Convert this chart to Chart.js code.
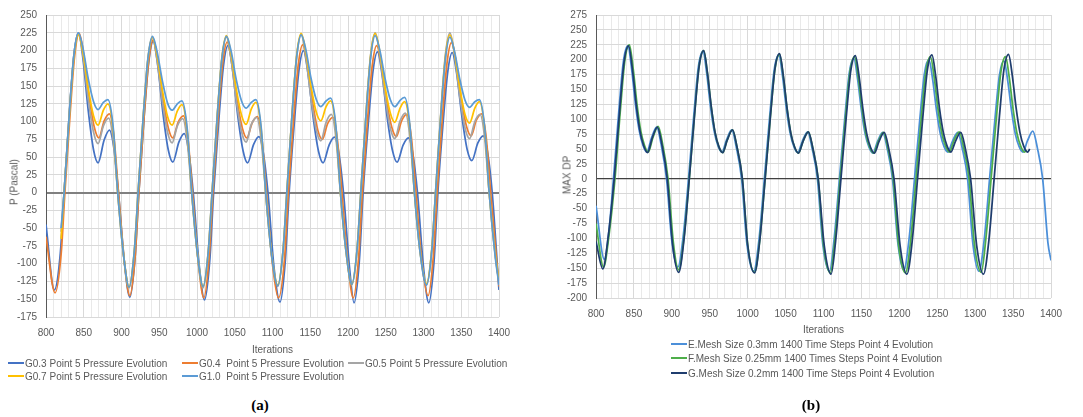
<!DOCTYPE html>
<html><head><meta charset="utf-8">
<script src="https://cdn.jsdelivr.net/npm/chart.js@4/dist/chart.umd.min.js"></script>
<style>
html,body{margin:0;padding:0;background:#fff;}
body{width:1083px;height:417px;position:relative;overflow:hidden;font-family:"Liberation Sans",Arial,sans-serif;}
canvas{position:absolute;top:0;}
#ca{left:0;}
#cb{left:540px;}
.ytitle{position:absolute;font-size:10px;color:#595959;white-space:nowrap;transform:translate(-50%,-50%) rotate(-90deg);}
.leg{position:absolute;font-size:10px;color:#595959;white-space:pre;line-height:12px;}
.leg i{display:inline-block;width:16px;height:2px;vertical-align:middle;margin-right:1px;position:relative;top:-1px;}
.cap{position:absolute;font-family:"Liberation Serif","Times New Roman",serif;font-weight:bold;font-size:15px;color:#000;transform:translate(-50%,-50%);}
</style></head>
<body>
<canvas id="ca" width="540" height="360"></canvas>
<canvas id="cb" width="543" height="340"></canvas>
<div class="ytitle" style="left:14px;top:182px;">P (Pascal)</div>
<div class="ytitle" style="left:567px;top:175px;">MAX DP</div>
<div id="legA"></div>
<div id="legB"></div>
<div class="cap" style="left:260px;top:405px;">(a)</div>
<div class="cap" style="left:811px;top:405px;">(b)</div>
<script>
// ---------- axis ranges / ticks ----------
const xRange = [800, 1400];
const xMajorStep = 50;
const xMinorStep = 10;
const yRangeA = [-175, 250];
const yRangeB = [-200, 275];
const yStep = 25;

// ---------- chart (a) series: [iteration, pressure] ----------
const namesA = ["G0.3 Point 5 Pressure Evolution","G0.4  Point 5 Pressure Evolution","G0.5 Point 5 Pressure Evolution","G0.7 Point 5 Pressure Evolution","G1.0  Point 5 Pressure Evolution"];
const colorsA = ["#4472C4","#ED7D31","#A5A5A5","#FFC000","#5B9BD5"];

const g03 = [[800,-45],[811,-137],[819,-85],[824,0],[831,113],[837,194],[843,225],[849,188],[856,115],[863,60],[869,42],[877,74],[884,88],[890,62],[896,0],[904,-100],[911,-147],
[918,-91],[923,0],[930,107],[936,183],[942,213],[948,179],[955,111],[962,60],[968,43],[976,71],[983,83],[989,58],[995,0],[1003,-103],[1010,-151],
[1017,-94],[1022,0],[1029,104],[1035,178],[1041,207],[1047,174],[1054,108],[1061,59],[1067,42],[1075,68],[1082,79],[1088,55],[1094,0],[1102,-105],[1110,-154],
[1117,-95],[1122,0],[1129,100],[1135,172],[1141,200],[1147,168],[1154,105],[1161,58],[1167,42],[1175,67],[1182,78],[1188,55],[1194,0],[1202,-105],[1208,-155],
[1215,-96],[1220,0],[1227,99],[1233,170],[1239,198],[1245,167],[1252,105],[1259,59],[1265,43],[1273,67],[1280,77],[1286,54],[1292,0],[1300,-105],[1307,-155],
[1314,-96],[1319,0],[1326,99],[1332,169],[1338,197],[1344,167],[1351,106],[1358,60],[1364,45],[1372,70],[1379,80],[1385,56],[1391,0],[1400,-137]];

const g04 = [[800,-62],[812,-141],[820,-87],[825,0],[832,112],[838,193],[844,224],[850,194],[857,136],[864,92],[870,77],[877,101],[884,111],[890,78],[896,0],[904,-99],[911,-145],
[918,-90],[923,0],[930,108],[936,185],[942,215],[948,187],[955,132],[962,91],[968,77],[975,99],[982,108],[988,76],[994,0],[1002,-101],[1009,-148],
[1016,-92],[1021,0],[1028,106],[1034,182],[1040,212],[1046,185],[1053,131],[1060,91],[1066,77],[1073,98],[1080,107],[1086,75],[1092,0],[1100,-101],[1108,-148],
[1116,-92],[1121,0],[1128,104],[1134,179],[1140,208],[1146,181],[1153,128],[1160,88],[1166,75],[1173,97],[1180,106],[1186,74],[1192,0],[1200,-101],[1207,-148],
[1214,-92],[1219,0],[1226,104],[1232,178],[1238,207],[1244,181],[1251,130],[1258,92],[1264,79],[1271,101],[1278,110],[1284,77],[1290,0],[1298,-99],[1306,-145],
[1313,-90],[1318,0],[1325,106],[1331,181],[1337,211],[1343,185],[1350,132],[1357,93],[1363,80],[1370,102],[1377,111],[1383,78],[1389,0],[1397,-97],[1400,-132]];

const g05 = [[820,-55],[824,0],[831,112],[837,193],[843,224],[849,193],[856,131],[863,85],[869,69],[876,94],[883,105],[889,74],[895,0],[903,-91],[910,-134],
[917,-83],[922,0],[929,109],[935,187],[941,218],[947,188],[954,129],[961,85],[967,70],[974,94],[981,104],[987,73],[993,0],[1001,-91],[1008,-134],
[1015,-83],[1020,0],[1027,110],[1033,188],[1039,219],[1045,189],[1052,130],[1059,86],[1065,71],[1072,96],[1079,106],[1085,74],[1091,0],[1099,-90],[1107,-132],
[1114,-82],[1119,0],[1126,111],[1132,191],[1138,222],[1144,192],[1151,133],[1158,88],[1164,73],[1171,99],[1178,110],[1184,77],[1190,0],[1198,-88],[1205,-130],
[1212,-81],[1217,0],[1224,113],[1230,194],[1236,225],[1242,195],[1249,136],[1256,91],[1262,76],[1269,101],[1276,112],[1282,78],[1288,0],[1296,-88],[1304,-130],
[1311,-81],[1316,0],[1323,113],[1329,194],[1335,225],[1341,195],[1348,136],[1355,91],[1361,76],[1368,100],[1375,110],[1381,77],[1387,0],[1395,-88],[1400,-127]];

const g07 = [[820,-65],[824,0],[831,111],[837,191],[843,222],[849,197],[856,146],[863,108],[869,95],[876,116],[882,125],[889,88],[895,0],[903,-90],[910,-133],
[917,-82],[922,0],[929,110],[935,188],[941,219],[947,194],[954,145],[961,107],[967,95],[974,115],[980,124],[987,87],[993,0],[1001,-90],[1008,-132],
[1015,-82],[1020,0],[1027,111],[1033,190],[1039,221],[1045,196],[1052,146],[1059,109],[1065,96],[1072,118],[1078,127],[1085,89],[1091,0],[1099,-88],[1107,-130],
[1114,-81],[1119,0],[1126,112],[1132,193],[1138,224],[1144,199],[1151,150],[1158,113],[1164,101],[1171,121],[1177,129],[1184,90],[1190,0],[1198,-88],[1205,-129],
[1212,-80],[1217,0],[1224,112],[1230,193],[1236,224],[1242,199],[1249,149],[1256,112],[1262,99],[1269,119],[1275,128],[1282,90],[1288,0],[1296,-87],[1304,-128],
[1311,-79],[1316,0],[1323,111],[1329,191],[1335,222],[1341,197],[1348,148],[1355,110],[1361,98],[1368,119],[1374,128],[1381,90],[1387,0],[1395,-87],[1400,-125]];

const g10 = [[820,-50],[824,0],[831,113],[837,194],[843,225],[849,203],[856,160],[863,128],[869,117],[876,127],[882,131],[889,92],[895,0],[903,-90],[910,-133],
[917,-82],[922,0],[929,110],[935,189],[941,220],[947,199],[954,158],[961,126],[967,116],[974,125],[980,129],[987,90],[993,0],[1001,-90],[1008,-132],
[1015,-82],[1020,0],[1027,110],[1033,189],[1039,220],[1045,200],[1052,159],[1059,129],[1065,119],[1072,127],[1078,131],[1085,92],[1091,0],[1099,-89],[1107,-131],
[1114,-81],[1119,0],[1126,111],[1132,191],[1138,222],[1144,202],[1151,161],[1158,131],[1164,121],[1171,129],[1177,133],[1184,93],[1190,0],[1198,-88],[1205,-129],
[1212,-80],[1217,0],[1224,111],[1230,190],[1236,221],[1242,201],[1249,161],[1256,131],[1262,121],[1269,130],[1275,134],[1282,94],[1288,0],[1296,-88],[1304,-130],
[1311,-81],[1316,0],[1323,110],[1329,188],[1335,219],[1341,199],[1348,160],[1355,130],[1361,120],[1368,128],[1374,131],[1381,92],[1387,0],[1395,-90],[1400,-130]];

// ---------- chart (b) series: [iteration, max DP] ----------
const namesB = ["E.Mesh Size 0.3mm 1400 Time Steps Point 4 Evolution","F.Mesh Size 0.25mm 1400 Times Steps Point 4 Evolution","G.Mesh Size 0.2mm 1400 Time Steps Point 4 Evolution"];
const colorsB = ["#4B8FD9","#4EAE4A","#1F3D6E"];

const meshE = [[800,-45],[811,-135],[817,-88],[823,0],[830,112],[836,196],[842,223],[847,184],[852,125],[857,81],[862,56],[867,45],[873,68],[880,87],[886,57],[893,0],[900,-104],[908,-148],
[915,-96],[922,0],[929,107],[935,188],[941,214],[946,177],[951,121],[956,79],[961,55],[966,45],[972,65],[979,82],[985,53],[992,0],[999,-109],[1008,-155],
[1015,-101],[1022,0],[1029,104],[1035,183],[1041,208],[1046,172],[1051,118],[1056,77],[1061,54],[1066,44],[1072,63],[1079,79],[1085,51],[1092,0],[1099,-109],[1108,-155],
[1114,-101],[1121,0],[1128,101],[1134,178],[1140,202],[1145,167],[1150,115],[1155,75],[1160,53],[1165,43],[1171,62],[1178,78],[1184,51],[1191,0],[1198,-107],[1206,-153],
[1213,-99],[1220,0],[1227,100],[1233,176],[1239,200],[1244,166],[1249,115],[1254,76],[1259,54],[1264,45],[1270,63],[1277,78],[1283,51],[1290,0],[1297,-109],[1305,-155],
[1312,-101],[1319,0],[1326,99],[1332,174],[1338,198],[1343,164],[1348,114],[1353,75],[1358,54],[1363,45],[1369,64],[1376,80],[1382,52],[1389,0],[1396,-108],[1400,-137]];

const meshF = [[800,-75],[810,-148],[817,-96],[825,0],[832,113],[838,198],[844,225],[849,185],[854,126],[859,81],[864,56],[869,45],[875,69],[882,88],[888,57],[895,0],[902,-107],[909,-153],
[916,-99],[923,0],[930,108],[936,189],[942,215],[947,177],[952,121],[957,78],[962,54],[967,44],[973,65],[980,82],[986,53],[993,0],[1000,-110],[1009,-157],
[1016,-102],[1023,0],[1030,105],[1036,184],[1042,209],[1047,172],[1052,118],[1057,76],[1062,53],[1067,43],[1073,63],[1080,79],[1086,51],[1093,0],[1100,-111],[1109,-158],
[1115,-103],[1122,0],[1129,103],[1135,180],[1141,205],[1146,169],[1151,116],[1156,75],[1161,53],[1166,43],[1172,62],[1179,78],[1185,51],[1192,0],[1199,-111],[1208,-158],
[1215,-103],[1222,0],[1229,103],[1235,180],[1241,205],[1246,170],[1251,117],[1256,77],[1261,55],[1266,45],[1272,64],[1279,79],[1285,51],[1292,0],[1299,-110],[1308,-157],
[1314,-102],[1321,0],[1328,103],[1334,180],[1340,205],[1345,170],[1350,117],[1355,77],[1360,55],[1365,45],[1368,48]];

const meshG = [[800,-105],[809,-151],[816,-98],[824,0],[831,112],[837,196],[843,223],[848,184],[853,125],[858,80],[863,55],[868,44],[874,68],[881,87],[887,57],[894,0],[901,-110],[909,-157],
[916,-102],[923,0],[930,108],[936,189],[942,215],[947,177],[952,121],[957,78],[962,54],[967,44],[973,65],[980,82],[986,53],[993,0],[1000,-111],[1009,-158],
[1016,-103],[1023,0],[1030,105],[1036,185],[1042,210],[1047,173],[1052,118],[1057,76],[1062,53],[1067,43],[1073,63],[1080,79],[1086,51],[1093,0],[1101,-112],[1110,-160],
[1116,-104],[1123,0],[1130,104],[1136,182],[1142,207],[1147,171],[1152,117],[1157,76],[1162,53],[1167,43],[1173,62],[1180,78],[1186,51],[1193,0],[1201,-112],[1210,-160],
[1217,-104],[1224,0],[1231,104],[1237,183],[1243,208],[1248,172],[1253,118],[1258,78],[1263,55],[1268,45],[1274,63],[1281,78],[1287,51],[1294,0],[1302,-112],[1311,-160],
[1318,-104],[1325,0],[1332,105],[1338,184],[1344,209],[1349,173],[1354,119],[1359,78],[1364,55],[1369,45],[1372,50]];

const seriesA = [g03, g04, g05, g07, g10];
const seriesB = [meshE, meshF, meshG];

// ---------- build ----------
const FONT = {family: '"Liberation Sans", Arial, sans-serif', size: 10};
const TXT = '#595959';

function makeDatasets(series, names, colors, width) {
  const n = series.length;
  return series.map((d, i) => ({
    label: names[i], data: d, borderColor: colors[i], backgroundColor: colors[i],
    borderWidth: width, pointRadius: 0, pointHoverRadius: 0, fill: false,
    cubicInterpolationMode: 'monotone', order: n - 1 - i
  }));
}

function makeOptions(yr, zeroColor, zeroWidth, yWidth, xHeight, pad) {
  return {
    responsive: false, animation: false, devicePixelRatio: 1,
    layout: {padding: pad},
    plugins: {legend: {display: false}, tooltip: {enabled: false}},
    scales: {
      x: {
        type: 'linear', min: xRange[0], max: xRange[1],
        border: {display: false},
        grid: {
          drawTicks: false,
          color: c => (Math.round(c.tick.value) % xMajorStep === 0) ? '#d9d9d9' : '#e9e9e9',
          lineWidth: 1
        },
        ticks: {
          stepSize: xMinorStep, autoSkip: false, maxRotation: 0, padding: 10,
          color: TXT, font: FONT,
          callback: v => (Math.round(v) % xMajorStep === 0) ? String(Math.round(v)) : ''
        },
        title: {display: true, text: 'Iterations', color: TXT, font: FONT, padding: {top: 0, bottom: 4}},
        afterFit: s => { s.height = xHeight; }
      },
      y: {
        type: 'linear', min: yr[0], max: yr[1],
        border: {display: true, color: '#595959', width: 1},
        grid: {
          drawTicks: false,
          color: c => c.tick.value === 0 ? zeroColor : '#d9d9d9',
          lineWidth: c => c.tick.value === 0 ? zeroWidth : 1
        },
        ticks: {stepSize: yStep, autoSkip: false, padding: 9, color: TXT, font: FONT},
        afterFit: s => { s.width = yWidth; }
      }
    }
  };
}

new Chart(document.getElementById('ca'), {
  type: 'line',
  data: {datasets: makeDatasets(seriesA, namesA, colorsA, 1.75)},
  options: makeOptions(yRangeA, '#808080', 2, 46, 43, {left: 0, right: 41, top: 14, bottom: 0})
});

new Chart(document.getElementById('cb'), {
  type: 'line',
  data: {datasets: makeDatasets(seriesB, namesB, colorsB, 1.75)},
  options: makeOptions(yRangeB, '#404040', 1.2, 56, 42, {left: 0, right: 32, top: 14, bottom: 0})
});

// ---------- legends (HTML) ----------
function addLeg(parent, name, color, x, y) {
  const d = document.createElement('div');
  d.className = 'leg';
  d.style.left = x + 'px';
  d.style.top = (y - 6) + 'px';
  d.innerHTML = '<i style="background:' + color + '"></i>';
  d.appendChild(document.createTextNode(name));
  parent.appendChild(d);
}
const legA = document.getElementById('legA');
const legAPos = [[8,364],[182,364],[348,364],[8,377],[182,377]];
namesA.forEach((n, i) => addLeg(legA, n, colorsA[i], legAPos[i][0], legAPos[i][1]));
const legB = document.getElementById('legB');
const legBPos = [[671,345],[671,359],[671,374]];
namesB.forEach((n, i) => addLeg(legB, n, colorsB[i], legBPos[i][0], legBPos[i][1]));
</script>
</body></html>
